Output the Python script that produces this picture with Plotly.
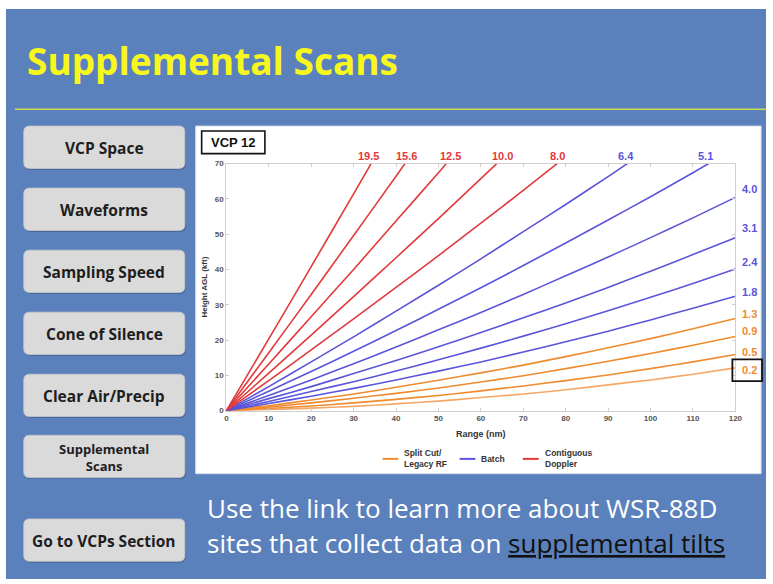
import plotly.graph_objects as go

W, H = 773, 584

# ---------------- data ----------------
range_nm = [0, 10, 20, 30, 40, 50, 60, 70, 80, 90, 100, 110, 120]

# beam heights (kft AGL) for each elevation angle (deg)
h_0_2 = [0, 0.3, 0.7, 1.2, 1.9, 2.7, 3.7, 4.7, 5.9, 7.3, 8.7, 10.3, 12.1]
h_0_5 = [0, 0.6, 1.3, 2.2, 3.2, 4.3, 5.6, 7.0, 8.5, 10.1, 11.9, 13.8, 15.9]
h_0_9 = [0, 1.0, 2.2, 3.5, 4.9, 6.4, 8.1, 9.9, 11.9, 14.0, 16.2, 18.5, 21.0]
h_1_3 = [0, 1.4, 3.0, 4.7, 6.6, 8.6, 10.7, 12.9, 15.3, 17.8, 20.4, 23.2, 26.1]
h_1_8 = [0, 2.0, 4.1, 6.3, 8.7, 11.2, 13.8, 16.6, 19.5, 22.5, 25.7, 29.0, 32.4]
h_2_4 = [0, 2.6, 5.4, 8.2, 11.2, 14.4, 17.7, 21.1, 24.6, 28.3, 32.1, 36.0, 40.1]
h_3_1 = [0, 3.4, 6.8, 10.5, 14.2, 18.1, 22.1, 26.3, 30.5, 34.9, 39.5, 44.2, 49.0]
h_4_0 = [0, 4.3, 8.7, 13.3, 18.0, 22.9, 27.8, 32.9, 38.2, 43.5, 49.0, 54.6, 60.4]
h_5_1 = [0, 5.5, 11.1, 16.8, 22.7, 28.7, 34.8, 41.1, 47.5, 54.0, 60.6, 67.4, 74.4]
h_6_4 = [0, 6.8, 13.8, 20.9, 28.2, 35.5, 43.0, 50.7, 58.4, 66.3, 74.4]
h_8_0 = [0, 8.5, 17.2, 26.0, 34.9, 43.9, 53.1, 62.4, 71.9]
h_10_0 = [0, 10.6, 21.4, 32.3, 43.3, 54.4, 65.7, 77.1]
h_12_5 = [0, 13.2, 26.6, 40.0, 53.7, 67.4, 81.3]
h_15_6 = [0, 16.4, 32.9, 49.6, 66.4, 83.4]
h_19_5 = [0, 20.3, 40.8, 61.4, 82.2]

split_cut_elev = ["0.2", "0.5", "0.9", "1.3"]
batch_elev = ["1.8", "2.4", "3.1", "4.0", "5.1", "6.4"]
contiguous_elev = ["8.0", "10.0", "12.5", "15.6", "19.5"]

# label positions
top_label_text = ["19.5", "15.6", "12.5", "10.0", "8.0", "6.4", "5.1"]
top_label_range = [33.6, 42.5, 52.8, 65.1, 78.0, 94.3, 113.0]
right_label_text = ["4.0", "3.1", "2.4", "1.8", "1.3", "0.9", "0.5", "0.2"]
right_label_height = [62.8, 51.6, 42.2, 33.6, 27.4, 22.5, 16.7, 11.4]

x_ticks = [0, 10, 20, 30, 40, 50, 60, 70, 80, 90, 100, 110, 120]
y_ticks = [0, 10, 20, 30, 40, 50, 60, 70]

nav_buttons = ["VCP Space", "Waveforms", "Sampling Speed", "Cone of Silence",
               "Clear Air/Precip", "Supplemental<br>Scans", "Go to VCPs Section"]

# ---------------- styling ----------------
ORANGE = "#EF8B2F"
ORANGE_LIGHT = "#F4A868"
BLUE = "#5B55DA"
RED = "#E2393B"
BG_BLUE = "#5B81BC"
CHART_FONT = "Liberation Sans, Arial, sans-serif"
SLIDE_FONT = "Open Sans, sans-serif"


def px(x):
    return x / W


def py(y):
    return 1 - y / H


def rrect(x0, y0, x1, y1, r):
    X0, X1 = px(x0), px(x1)
    Y0, Y1 = py(y0), py(y1)
    rx, ry = r / W, r / H
    return (f"M{X0+rx},{Y0} L{X1-rx},{Y0} Q{X1},{Y0} {X1},{Y0-ry} "
            f"L{X1},{Y1+ry} Q{X1},{Y1} {X1-rx},{Y1} L{X0+rx},{Y1} "
            f"Q{X0},{Y1} {X0},{Y1+ry} L{X0},{Y0-ry} Q{X0},{Y0} {X0+rx},{Y0} Z")


fig = go.Figure()

series = [
    ("0.2", h_0_2, ORANGE_LIGHT), ("0.5", h_0_5, ORANGE), ("0.9", h_0_9, ORANGE),
    ("1.3", h_1_3, ORANGE),
    ("1.8", h_1_8, BLUE), ("2.4", h_2_4, BLUE), ("3.1", h_3_1, BLUE),
    ("4.0", h_4_0, BLUE), ("5.1", h_5_1, BLUE), ("6.4", h_6_4, BLUE),
    ("8.0", h_8_0, RED), ("10.0", h_10_0, RED), ("12.5", h_12_5, RED),
    ("15.6", h_15_6, RED), ("19.5", h_19_5, RED),
]
for name, h, col in series:
    fig.add_trace(go.Scatter(
        x=range_nm[:len(h)], y=h, mode="lines", name=name + "°",
        line=dict(color=col, width=1.6, shape="spline", smoothing=0.4),
        showlegend=False, hoverinfo="x+y+name"))

shapes = []
annotations = []

# slide background (white hairline strip at top/left)
shapes.append(dict(type="rect", xref="paper", yref="paper", x0=px(4), x1=1.0,
                   y0=0, y1=py(5), fillcolor=BG_BLUE, line=dict(width=0), layer="below"))
# divider line under the title
shapes.append(dict(type="line", xref="paper", yref="paper", x0=px(13), x1=1.0,
                   y0=py(107), y1=py(107), line=dict(color="#C9DA4E", width=1.5), layer="below"))
# chart panel
shapes.append(dict(type="rect", xref="paper", yref="paper", x0=px(196), x1=px(768),
                   y0=py(477), y1=py(124), fillcolor="white",
                   line=dict(color="#D6E0EE", width=1), layer="below"))

# navigation buttons
btn_tops = [124, 187, 250, 313, 376, 438, 523]
btn_h = 43
for label, top in zip(nav_buttons, btn_tops):
    shapes.append(dict(type="path", xref="paper", yref="paper",
                       path=rrect(23, top + 1.5, 186, top + btn_h + 1.5, 6),
                       fillcolor="rgba(40,60,100,0.35)", line=dict(width=0), layer="below"))
    shapes.append(dict(type="path", xref="paper", yref="paper",
                       path=rrect(22, top, 185, top + btn_h, 6),
                       fillcolor="#DADADA", line=dict(color="#C8C8C8", width=0.8), layer="below"))
    small = "<br>" in label
    annotations.append(dict(
        xref="paper", yref="paper", x=px(103.5), y=py(top + btn_h / 2 + 1),
        text=f"<b>{label}</b>", showarrow=False, xanchor="center", yanchor="middle",
        font=dict(family=SLIDE_FONT, size=13 if small else 15.5, color="#1E1E1E"),
        align="center"))

# slide title
annotations.append(dict(xref="paper", yref="paper", x=px(23), y=py(57),
                        text="<b>Supplemental Scans</b>", showarrow=False,
                        xanchor="left", yanchor="middle",
                        font=dict(family=SLIDE_FONT, size=37, color="#F7F71E")))

# bottom text
annotations.append(dict(xref="paper", yref="paper", x=px(205), y=py(512),
                        text="Use the link to learn more about WSR-88D", showarrow=False,
                        xanchor="left", yanchor="middle",
                        font=dict(family=SLIDE_FONT, size=26, color="white")))
annotations.append(dict(xref="paper", yref="paper", x=px(205), y=py(547),
                        text="sites that collect data on "
                             "<span style='color:#111111;text-decoration:underline'>supplemental tilts</span>",
                        showarrow=False, xanchor="left", yanchor="middle",
                        font=dict(family=SLIDE_FONT, size=26, color="white")))

# VCP 12 box
shapes.append(dict(type="rect", xref="paper", yref="paper", x0=px(202), x1=px(266),
                   y0=py(152), y1=py(129), fillcolor="white",
                   line=dict(color="#111111", width=1.6)))
annotations.append(dict(xref="paper", yref="paper", x=px(234), y=py(140.5),
                        text="<b>VCP 12</b>", showarrow=False, xanchor="center", yanchor="middle",
                        font=dict(family=CHART_FONT, size=13, color="#111111")))

# elevation labels at top of chart
for t, r in zip(top_label_text, top_label_range):
    col = RED if float(t) >= 8.0 else BLUE
    annotations.append(dict(xref="x", yref="y", x=r, y=70, yshift=8, text=f"<b>{t}</b>",
                            showarrow=False, xanchor="center", yanchor="middle",
                            font=dict(family=CHART_FONT, size=11, color=col)))
# elevation labels at right
for t, hgt in zip(right_label_text, right_label_height):
    col = BLUE if float(t) >= 1.8 else ORANGE
    annotations.append(dict(xref="x", yref="y", x=120, y=hgt, xshift=5, text=f"<b>{t}</b>",
                            showarrow=False, xanchor="left", yanchor="middle",
                            font=dict(family=CHART_FONT, size=11, color=col)))
# box around the 0.2 label
shapes.append(dict(type="rect", xref="paper", yref="paper", x0=px(739), x1=px(769),
                   y0=py(383), y1=py(361), line=dict(color="#111111", width=1.8)))

# legend (drawn manually to match sample lengths)
legend_items = [("Split Cut/<br>Legacy RF", ORANGE, 385), ("Batch", BLUE, 463),
                ("Contiguous<br>Doppler", RED, 527)]
for text, col, lx in legend_items:
    shapes.append(dict(type="line", xref="paper", yref="paper", x0=px(lx), x1=px(lx + 16),
                       y0=py(462), y1=py(462), line=dict(color=col, width=2)))
    annotations.append(dict(xref="paper", yref="paper", x=px(lx + 20), y=py(462),
                            text=f"<b>{text}</b>", showarrow=False, xanchor="left",
                            yanchor="middle", align="left",
                            font=dict(family=CHART_FONT, size=8.5, color="#333333")))

axis_common = dict(showline=True, linecolor="#CFCFCF", linewidth=1, mirror="ticks",
                   ticks="inside", ticklen=3, tickcolor="#CFCFCF", showgrid=False,
                   zeroline=False,
                   tickfont=dict(family=CHART_FONT, size=8, color="#555555", weight="bold"))

fig.update_layout(
    width=W, height=H,
    margin=dict(l=0, r=0, t=0, b=0),
    paper_bgcolor="white",
    plot_bgcolor="rgba(0,0,0,0)",
    showlegend=False,
    xaxis=dict(domain=[px(227), px(742)], range=[0, 120], tickvals=x_ticks,
               title=dict(text="<b>Range (nm)</b>", standoff=8,
                          font=dict(family=CHART_FONT, size=9, color="#333333")),
               **axis_common),
    yaxis=dict(domain=[py(413), py(162)], range=[0, 70], tickvals=y_ticks,
               title=dict(text="<b>Height AGL (kft)</b>", standoff=6,
                          font=dict(family=CHART_FONT, size=8, color="#333333")),
               **axis_common),
    shapes=shapes,
    annotations=annotations,
)

fig.write_html("out.html", config={"displayModeBar": False},
               post_script="document.body.style.margin='0';")
